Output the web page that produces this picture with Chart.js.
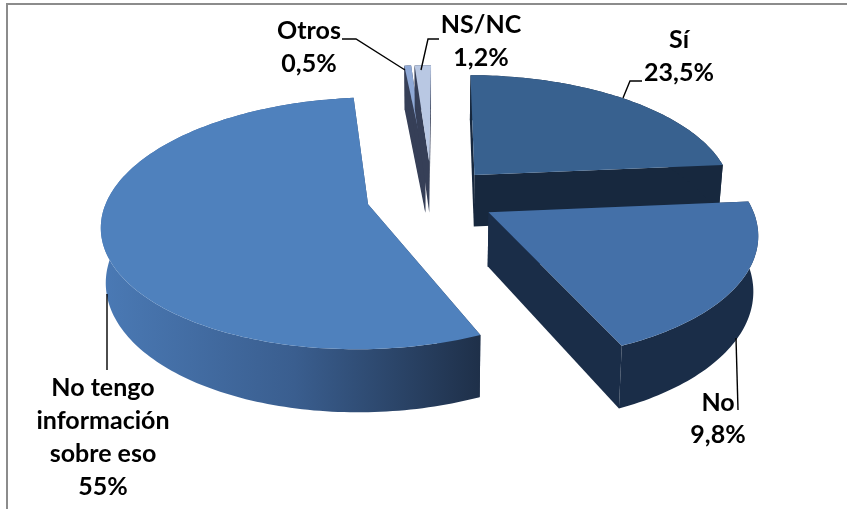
<!DOCTYPE html>
<html><head><meta charset="utf-8">
<style>html,body{margin:0;padding:0;background:#fff}#w{position:absolute;left:0;top:0;width:847px;height:509px}</style>
<script src="https://cdn.jsdelivr.net/npm/chart.js@4"></script></head>
<body><div id="w"><canvas id="c" width="847" height="509"></canvas></div>
<script>
const categories = ['Sí', 'No', 'No tengo información sobre eso', 'Otros', 'NS/NC'];
const sliceValues = [23.5, 19.8, 55, 0.5, 1.2];
const valueLabels = ['23,5%', '9,8%', '55%', '0,5%', '1,2%'];
const topColors = ['#38618f', '#4470a8', '#4f81bd', '#8fa9d6', '#b9c8e3'];
const wallColors = ['#17283e', '#1a2d48', null, '#363f57', '#363f57'];
const explode = [0.25, 0.25, 0.25, 0.3, 0.3];

const CX = 431.5, CY = 196.5, RX = 260, RY = 120.7, K = 0.15, DEPTH = 53, CONVERGE = 0.015;
const FONT = 'bold 25px Lato, "Open Sans", sans-serif';

const textBlocks = [
  {lines: [categories[0], valueLabels[0]], x: 679, y: [40, 73]},
  {lines: [categories[1], valueLabels[1]], x: 718, y: [403, 435]},
  {lines: ['No tengo', 'información', 'sobre eso', valueLabels[2]], x: 103, y: [388, 421, 454, 487]},
  {lines: [categories[3], valueLabels[3]], x: 309, y: [31, 64]},
  {lines: [categories[4], valueLabels[4]], x: 481, y: [25, 58]}
];
const leaders = [
  [[642,81],[630,81],[623,98]],
  [[736,338],[738,410]],
  [[107,294],[107,370]],
  [[342,39],[356,39],[405,70]],
  [[439,39],[428,39],[421,70]]
];

function project(u, v, z) {
  const s = 1 / (1 - K * v);
  return [CX + RX * u * s * (1 - CONVERGE * z), CY + RY * v * s + z * DEPTH * s];
}
function outline(a0, a1, ex) {
  const mid = (a0 + a1) / 2;
  const ou = Math.cos(mid) * ex, ov = Math.sin(mid) * ex;
  const rim = [];
  const n = Math.max(2, Math.ceil((a1 - a0) / 0.02));
  for (let i = 0; i <= n; i++) {
    const a = a0 + (a1 - a0) * i / n;
    rim.push([ou + Math.cos(a), ov + Math.sin(a)]);
  }
  return {tip: [ou, ov], rim};
}
function wallFill(ctx, i) {
  if (wallColors[i]) return wallColors[i];
  const g = ctx.createLinearGradient(105, 0, 483, 0);
  g.addColorStop(0, '#4a79b4');
  g.addColorStop(0.5, '#3a5e8f');
  g.addColorStop(1, '#1e2f48');
  return g;
}
function poly(ctx, list) {
  ctx.beginPath();
  list.forEach((P, j) => j ? ctx.lineTo(P[0], P[1]) : ctx.moveTo(P[0], P[1]));
  ctx.closePath();
  ctx.fill();
}
function drawSlice(ctx, arc, i) {
  const p = arc.getProps(['startAngle', 'endAngle']);
  const o = outline(p.startAngle, p.endAngle, arc.options.offset / arc.outerRadius);
  const first = o.rim[0], last = o.rim[o.rim.length - 1];
  ctx.fillStyle = wallFill(ctx, i);
  poly(ctx, [project(...o.tip, 0), project(...first, 0), project(...first, 1), project(...o.tip, 1)]);
  poly(ctx, [project(...o.tip, 0), project(...last, 0), project(...last, 1), project(...o.tip, 1)]);
  poly(ctx, o.rim.map(q => project(...q, 0)).concat(o.rim.slice().reverse().map(q => project(...q, 1))));
  ctx.fillStyle = arc.options.backgroundColor;
  poly(ctx, [project(...o.tip, 0)].concat(o.rim.map(q => project(...q, 0))));
}
const pie3d = {
  id: 'pie3d',
  beforeDatasetsDraw(chart) {
    const ctx = chart.ctx, arcs = chart.getDatasetMeta(0).data;
    ctx.save();
    ctx.fillStyle = '#fff'; ctx.fillRect(0, 0, 847, 509);
    ctx.strokeStyle = '#8c8c8c'; ctx.lineWidth = 2;
    ctx.beginPath(); ctx.moveTo(7, 509); ctx.lineTo(7, 4); ctx.lineTo(847, 4); ctx.stroke();
    [0, 3, 4, 1, 2].forEach(i => drawSlice(ctx, arcs[i], i));
    ctx.strokeStyle = '#000'; ctx.lineWidth = 1.4;
    leaders.forEach(l => { ctx.beginPath(); l.forEach((q, j) => j ? ctx.lineTo(...q) : ctx.moveTo(...q)); ctx.stroke(); });
    ctx.fillStyle = '#000'; ctx.font = FONT; ctx.textAlign = 'center'; ctx.textBaseline = 'middle';
    textBlocks.forEach(b => b.lines.forEach((t, j) => ctx.fillText(t, b.x, b.y[j])));
    ctx.restore();
    return false;
  }
};
new Chart(document.getElementById('c'), {
  type: 'pie',
  data: {labels: categories, datasets: [{data: sliceValues, backgroundColor: topColors,
    offset: explode.map(e => e * 221.3), borderWidth: 0}]},
  options: {responsive: false, animation: false, rotation: 0.4,
    layout: {padding: 0},
    plugins: {legend: {display: false}, tooltip: {enabled: false}}},
  plugins: [pie3d]
});
</script></body></html>
